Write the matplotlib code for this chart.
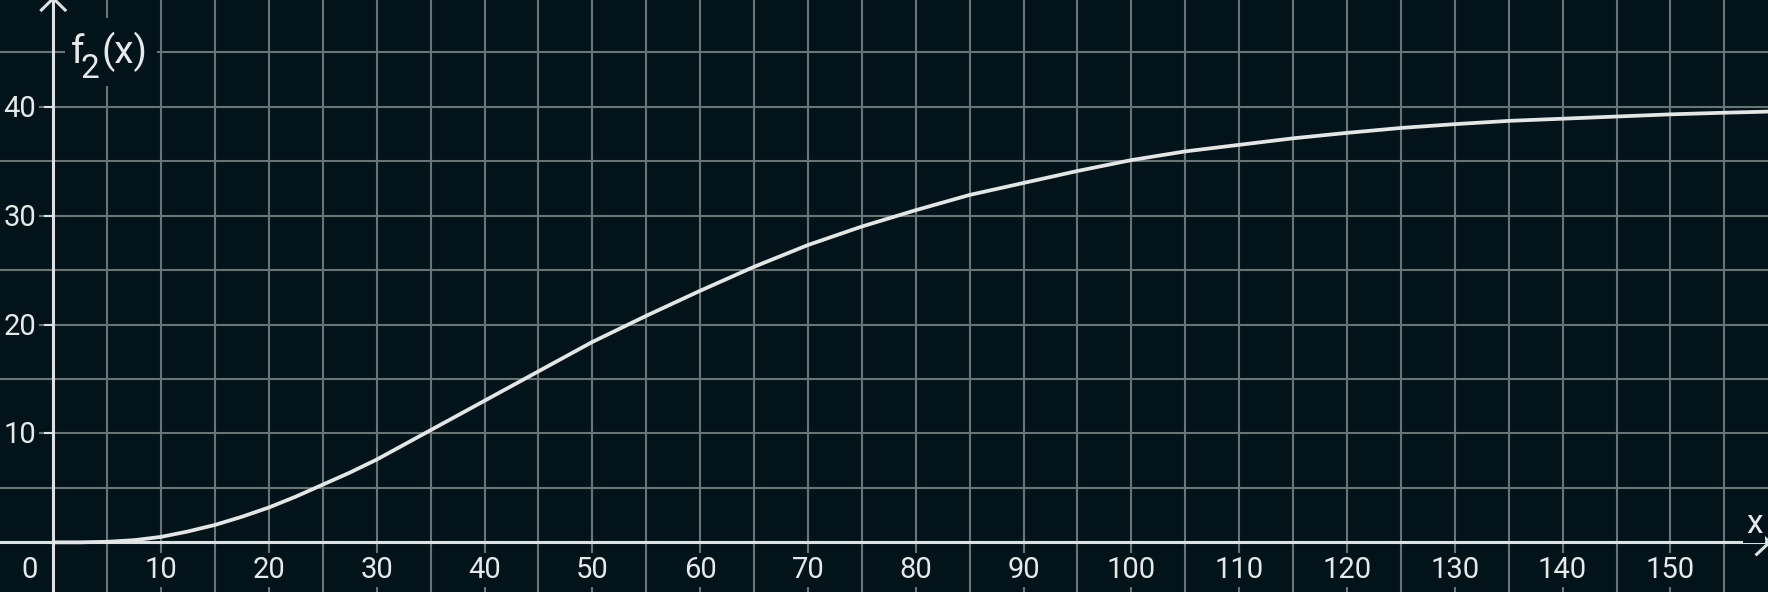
import numpy as np
import matplotlib
matplotlib.use('Agg')
import matplotlib.pyplot as plt
from matplotlib.patches import Rectangle

plt.rcParams['font.family'] = ['Roboto', 'DejaVu Sans']

# values
x_vals = [0, 2.5, 5, 7.5, 10, 12.5, 15, 17.5, 20, 22.5, 25, 27.5, 30, 32.5, 35,
          40, 45, 50, 55, 60, 65, 70, 75, 80, 85, 90, 95, 100, 105, 110, 115,
          120, 125, 130, 135, 140, 145, 150, 155, 159]
f2_vals = [0, 0.0, 0.05, 0.2, 0.5, 1.0, 1.6, 2.35, 3.2, 4.2, 5.3, 6.4, 7.6, 8.95, 10.3,
           13.0, 15.7, 18.4, 20.8, 23.1, 25.3, 27.3, 29.0, 30.5, 31.9, 33.0, 34.1,
           35.1, 35.9, 36.5, 37.1, 37.6, 38.05, 38.4, 38.7, 38.9, 39.1, 39.3, 39.45, 39.55]
x_ticks = [10, 20, 30, 40, 50, 60, 70, 80, 90, 100, 110, 120, 130, 140, 150]
y_ticks = [10, 20, 30, 40]

bg = '#02131a'
grid_c = '#687475'
axis_c = '#dde1e1'
txt_c = '#e6e9e9'

W, H = 1768, 592
fig = plt.figure(figsize=(W / 100, H / 100), dpi=100)
fig.patch.set_facecolor(bg)
ax = fig.add_axes([0, 0, 1, 1])
ax.set_facecolor(bg)
ax.set_xlim(-4.94, 159.05)
ax.set_ylim(-4.56, 49.8)
for s in ax.spines.values():
    s.set_visible(False)

ax.set_xticks(np.arange(0, 160, 5))
ax.set_yticks(np.arange(0, 50, 5))
ax.grid(True, color=grid_c, lw=1.5)
ax.set_axisbelow(True)
ax.tick_params(length=0, labelbottom=False, labelleft=False)

# axes with arrows
ax.axhline(0, color=axis_c, lw=2.2, zorder=3)
ax.axvline(0, color=axis_c, lw=2.2, zorder=3)
ax.plot([-1.1, 0, 1.1], [48.88, 49.95, 48.88], color=axis_c, lw=2.2, zorder=3, clip_on=False)
ax.plot([158.0, 159.2, 158.0], [1.1, 0, -1.1], color=axis_c, lw=2.2, zorder=3, clip_on=False)

ax.plot(x_vals, f2_vals, color='#e4e6e6', lw=2.7, zorder=5,
        solid_capstyle='round', solid_joinstyle='round')

box = dict(facecolor=bg, edgecolor='none', pad=2)
for v in x_ticks:
    ax.text(v, -3.28, str(v), ha='center', va='baseline', fontsize=21,
            color=txt_c, bbox=box, zorder=4)
for v in y_ticks:
    ax.plot([-0.75, 0], [v, v], color=axis_c, lw=1.5, zorder=3)
    ax.text(-1.6, v - 0.92, str(v), ha='right', va='baseline', fontsize=21,
            color=txt_c, bbox=box, zorder=4)
ax.text(-2.16, -3.28, '0', ha='center', va='baseline', fontsize=21,
        color=txt_c, bbox=box, zorder=4)
ax.text(157.0, 0.85, 'x', ha='left', va='baseline', fontsize=24,
        color=txt_c, bbox=box, zorder=4)

# f2(x) label
ax.add_patch(Rectangle((65 / W, 1 - 86 / H), 92 / W, 68 / H, transform=fig.transFigure,
                       facecolor=bg, edgecolor='none', zorder=4))
fig.text(71 / W, 1 - 63 / H, 'f', fontsize=28, color=txt_c, va='baseline', zorder=5)
fig.text(81 / W, 1 - 78 / H, '2', fontsize=24, color=txt_c, va='baseline', zorder=5)
fig.text(101 / W, 1 - 63 / H, '(x)', fontsize=28, color=txt_c, va='baseline', zorder=5)

fig.savefig('out.png', dpi=100, facecolor=bg)
